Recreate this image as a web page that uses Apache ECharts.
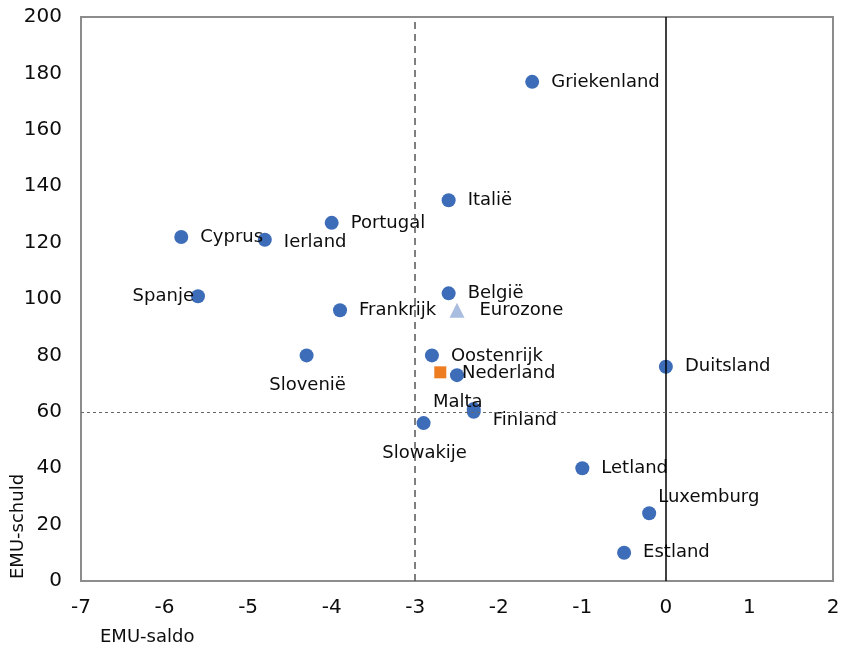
<!DOCTYPE html>
<html>
<head>
<meta charset="utf-8">
<script src="https://cdn.jsdelivr.net/npm/echarts@6/dist/echarts.min.js"></script>
<style>
html,body{margin:0;padding:0;background:#fff;}
#chart{width:855px;height:651px;}
</style>
</head>
<body>
<div id="chart"></div>
<script>
// Data
const countries = ['Griekenland','Italië','Portugal','Cyprus','Ierland','Spanje','Frankrijk','België','Slovenië','Oostenrijk','Nederland','Duitsland','Malta','Finland','Slowakije','Letland','Luxemburg','Estland'];
const saldo  = [-1.6, -2.6, -4.0, -5.8, -4.8, -5.6, -3.9, -2.6, -4.3, -2.8, -2.5, 0.0, -2.3, -2.3, -2.9, -1.0, -0.2, -0.5];
const schuld = [177, 135, 127, 122, 121, 101, 96, 102, 80, 80, 73, 76, 61, 60, 56, 40, 24, 10];
const eurozone = {name: 'Eurozone', saldo: -2.5, schuld: 96};
const highlight = {name: 'Nederland', saldo: -2.7, schuld: 74};
const xTicks = {min: -7, max: 2, interval: 1};
const yTicks = {min: 0, max: 200, interval: 20};
const refLines = {saldo: -3, schuld: 60, zero: 0};

// Label placement (style only)
const labelLayout = {
  'Ierland':   {offset: [0, 3]},
  'Spanje':    {position: 'left', distance: -3},
  'Nederland': {distance: -2, offset: [0, -2]},
  'Malta':     {position: 'inside', offset: [-16, -7]},
  'Finland':   {offset: [0, 9]},
  'Slovenië':  {position: 'inside', offset: [1, 30]},
  'Slowakije': {position: 'inside', offset: [1, 30]},
  'Luxemburg': {distance: 2, offset: [0, -16]},
  'Oostenrijk':{offset: [0, 1]}
};

const FONT = 'DejaVu Sans, Verdana, sans-serif';
const TXT = '#0d0d0d';

const countryData = countries.map((n, i) => {
  const l = labelLayout[n] || {};
  return {
    name: n,
    value: [saldo[i], schuld[i]],
    label: {
      show: true,
      formatter: n,
      position: l.position || 'right',
      distance: l.distance !== undefined ? l.distance : 12,
      offset: l.offset || [0, 0]
    }
  };
});

const chart = echarts.init(document.getElementById('chart'));
chart.setOption({
  animation: false,
  backgroundColor: '#fff',
  grid: {left: 81, right: 22, top: 17, bottom: 70, show: true, borderColor: '#8c8c8c', borderWidth: 2, backgroundColor: 'transparent'},
  xAxis: {
    type: 'value', min: xTicks.min, max: xTicks.max, interval: xTicks.interval,
    axisLine: {show: false}, axisTick: {show: false}, splitLine: {show: false},
    axisLabel: {fontSize: 20, color: TXT, fontFamily: FONT, margin: 17}
  },
  yAxis: {
    type: 'value', min: yTicks.min, max: yTicks.max, interval: yTicks.interval,
    axisLine: {show: false}, axisTick: {show: false}, splitLine: {show: false},
    axisLabel: {fontSize: 20, color: TXT, fontFamily: FONT, margin: 19}
  },
  graphic: [
    {type: 'text', left: 100, top: 628, style: {text: 'EMU-saldo', fontSize: 18, fontFamily: FONT, fill: TXT}},
    {type: 'text', x: 18, y: 579, rotation: Math.PI / 2, style: {text: 'EMU-schuld', fontSize: 18, fontFamily: FONT, fill: TXT, align: 'left', verticalAlign: 'middle'}}
  ],
  series: [
    {
      type: 'scatter', data: [], silent: true,
      markLine: {
        silent: true, symbol: 'none', animation: false,
        label: {show: false},
        data: [
          {xAxis: refLines.saldo, lineStyle: {color: '#555', width: 1.5, type: [7, 5]}},
          {xAxis: refLines.zero, lineStyle: {color: '#000', width: 1.5, type: 'solid'}},
          {yAxis: refLines.schuld, lineStyle: {color: '#666', width: 1, type: [3, 3]}}
        ]
      }
    },
    {
      type: 'scatter', name: 'landen', symbol: 'circle', symbolSize: 14,
      itemStyle: {color: '#3d6cb9', opacity: 1},
      label: {fontSize: 18, fontFamily: FONT, color: TXT, opacity: 1},
      data: countryData
    },
    {
      type: 'scatter', name: highlight.name, symbol: 'rect', symbolSize: 12,
      itemStyle: {color: '#ed7d1f', opacity: 1},
      data: [[highlight.saldo, highlight.schuld]]
    },
    {
      type: 'scatter', name: eurozone.name, symbol: 'triangle', symbolSize: 15,
      itemStyle: {color: '#a9bde0', opacity: 1},
      label: {show: true, formatter: eurozone.name, position: 'right', distance: 15, fontSize: 18, fontFamily: FONT, color: TXT, opacity: 1},
      data: [[eurozone.saldo, eurozone.schuld]]
    }
  ]
});
</script>
</body>
</html>
